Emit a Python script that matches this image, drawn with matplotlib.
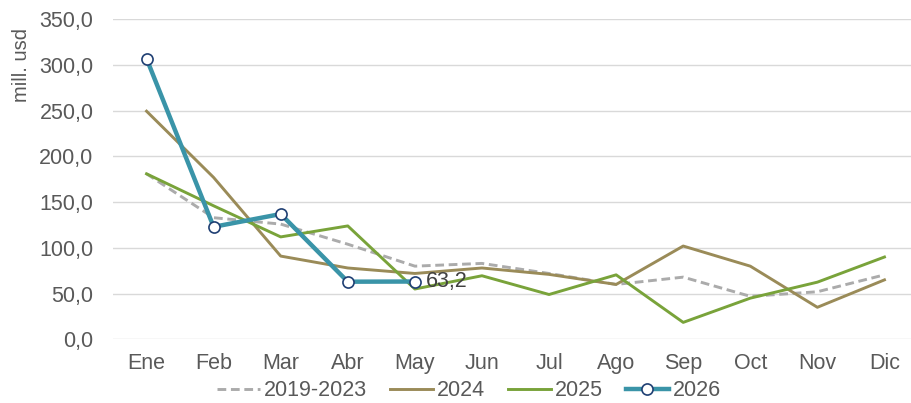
import matplotlib.pyplot as plt

plt.rcParams['font.family'] = ['Liberation Sans', 'DejaVu Sans']

# months (Spanish abbreviations)
meses = ['Ene', 'Feb', 'Mar', 'Abr', 'May', 'Jun', 'Jul', 'Ago', 'Sep', 'Oct', 'Nov', 'Dic']

# series, mill. usd
prom_2019_2023 = [181, 133, 126, 104, 80, 83, 72, 60, 68, 47, 52, 70.5]
serie_2024 = [249.5, 177, 91, 78, 72, 78, 71, 60, 102, 80, 35, 65]
serie_2025 = [181, 146, 112, 124, 55, 69.5, 49, 70.5, 18.5, 45, 62.5, 90]
serie_2026 = [307, 123, 137, 63, 63.2]

gris_txt = '#595959'
fs = 15.5

fig = plt.figure(figsize=(9.12, 4.03), dpi=100)
# plot area runs past the right edge of the picture, like the original
ax = fig.add_axes([113 / 912, 63.7 / 403, 805 / 912, 320 / 403])

x = list(range(len(meses)))
ax.plot(x, prom_2019_2023, color='#ABABAB', lw=2.1, ls=(0, (3, 1.6)), label='2019-2023')
ax.plot(x, serie_2024, color='#9A8B58', lw=2.1, label='2024')
ax.plot(x, serie_2025, color='#79A33A', lw=2.1, label='2025')
ax.plot(x[:len(serie_2026)], serie_2026, color='#3A94A8', lw=3.2, marker='o',
        ms=8, mfc='white', mec='#1F3F73', mew=1.2, label='2026', zorder=5)

# data label on last point
ax.annotate('63,2', (x[len(serie_2026) - 1], serie_2026[-1]), xytext=(8, 0),
            textcoords='offset points', va='center', ha='left',
            fontsize=fs, color='#404040')

ax.set_xlim(-0.5, 11.5)
ax.set_ylim(0, 350)
ax.set_yticks(range(0, 351, 50))
ax.set_yticklabels([f'{v},0' for v in range(0, 351, 50)])
ax.set_xticks(x)
ax.set_xticklabels(meses)
ax.tick_params(length=0, labelsize=fs, colors=gris_txt)
ax.tick_params(axis='y', pad=14)
ax.tick_params(axis='x', pad=10)
ax.grid(axis='y', color='#D9D9D9', lw=1)
ax.set_axisbelow(True)
for s in ax.spines.values():
    s.set_visible(False)

fig.text(22 / 912, 1 - 65 / 403, 'mill. usd', rotation=90, ha='center', va='center',
         fontsize=14.5, color=gris_txt)

fig.legend(loc='center', bbox_to_anchor=(469 / 912, 1 - 391 / 403), ncol=4, frameon=False,
           fontsize=fs, labelcolor=gris_txt, handlelength=2.0, handletextpad=0.2,
           columnspacing=1.05)

fig.savefig('out.png', dpi=100)
